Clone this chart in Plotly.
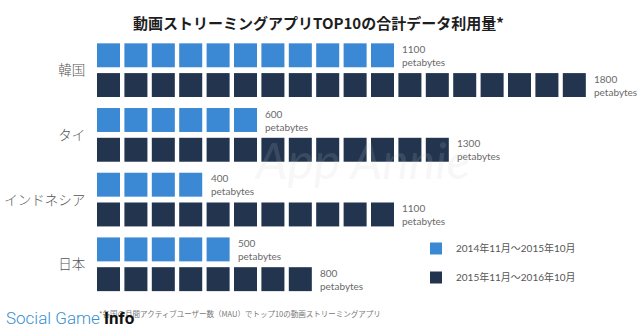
import plotly.graph_objects as go

categories = ["韓国", "タイ", "インドネシア", "日本"]
series_names = ["2014年11月～2015年10月", "2015年11月～2016年10月"]
values_2015 = [1100, 600, 400, 500]
values_2016 = [1800, 1300, 1100, 800]
unit = 100
colors = ["#3b88d4", "#22344e"]

W, H = 640, 332
ml = 97
px_per_unit = 27.4
plot_w = W - ml
px_per_group = 64.7
g0_px = 70.5

offsets = [-0.235, 0.225]
bar_h = 0.37
sq_w = 0.84

fig = go.Figure()
annotations = []
for s, (name, vals) in enumerate(zip(series_names, [values_2015, values_2016])):
    ys, bases = [], []
    for k, v in enumerate(vals):
        n = int(round(v / unit))
        for i in range(n):
            ys.append(k + offsets[s])
            bases.append(i)
        annotations.append(dict(
            x=n, y=k + offsets[s], xref="x", yref="y", xanchor="left", yanchor="middle",
            xshift=2, text=f"{v}<br>petabytes", showarrow=False, align="left",
            font=dict(family="Lato, Open Sans, sans-serif", size=10, color="#6a6a6a")))
    fig.add_trace(go.Bar(
        x=[sq_w] * len(ys), y=ys, base=bases, orientation="h", width=bar_h,
        marker=dict(color=colors[s], line=dict(width=0)), name=name,
        legendgroup=f"g{s}", hoverinfo="skip"))

# title
annotations.append(dict(text="<b>動画ストリーミングアプリTOP10の合計データ利用量*</b>",
                        xref="paper", yref="paper", x=(318 - ml) / plot_w, y=1 - 22 / H,
                        xanchor="center", yanchor="middle", showarrow=False,
                        font=dict(family="Noto Sans CJK JP", size=15, color="#1e1e1e")))
# footnote
annotations.append(dict(text="*各国の月間アクティブユーザー数（MAU）でトップ10の動画ストリーミングアプリ",
                        xref="paper", yref="paper", x=0, y=1 - 313 / H,
                        xanchor="left", yanchor="middle", showarrow=False,
                        font=dict(family="Noto Sans CJK JP", size=7.5, color="#777777")))
# watermark
annotations.append(dict(text="<i>App Annie</i>", xref="paper", yref="paper",
                        x=(362 - ml) / plot_w, y=1 - 160 / H, xanchor="center", yanchor="middle",
                        showarrow=False,
                        font=dict(family="Lato, sans-serif", size=50, color="rgba(200,200,200,0.15)")))
# logo
annotations.append(dict(text="<span style='color:#3a8fd0;font-weight:300'>Social Game</span> <b>Info</b>",
                        xref="paper", yref="paper", x=-(ml - 4) / plot_w, y=1 - 318 / H,
                        xanchor="left", yanchor="middle", showarrow=False,
                        font=dict(family="Roboto", size=17, color="#111111")))

fig.update_layout(
    width=W, height=H,
    margin=dict(l=ml, r=0, t=0, b=0),
    paper_bgcolor="white", plot_bgcolor="white",
    barmode="overlay",
    xaxis=dict(range=[0, plot_w / px_per_unit], visible=False, fixedrange=True),
    yaxis=dict(range=[(H - g0_px) / px_per_group, -g0_px / px_per_group],
               tickvals=list(range(len(categories))), ticktext=categories,
               showgrid=False, zeroline=False, showline=False,
               ticks="outside", ticklen=8, tickcolor="rgba(0,0,0,0)",
               tickfont=dict(family="Noto Sans CJK JP", size=13.5, color="#555555", weight=300)),
    showlegend=True,
    legend=dict(x=(416 - ml) / plot_w, y=1 - 234 / H, xanchor="left", yanchor="top",
                traceorder="grouped", tracegroupgap=10, bgcolor="rgba(0,0,0,0)",
                font=dict(family="Lato, Noto Sans CJK JP", size=10, color="#555555")),
    annotations=annotations,
)

fig.write_html("out.html")
